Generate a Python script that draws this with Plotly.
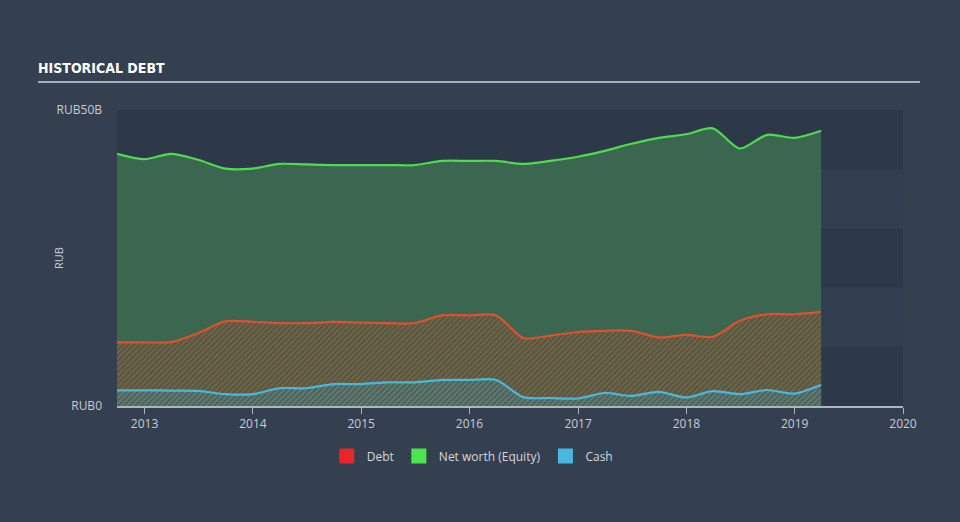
import plotly.graph_objects as go

dates = ["2012-09-30", "2012-12-31", "2013-03-31", "2013-06-30", "2013-09-30", "2013-12-31",
         "2014-03-31", "2014-06-30", "2014-09-30", "2014-12-31", "2015-03-31", "2015-06-30",
         "2015-09-30", "2015-12-31", "2016-03-31", "2016-06-30", "2016-09-30", "2016-12-31",
         "2017-03-31", "2017-06-30", "2017-09-30", "2017-12-31", "2018-03-31", "2018-06-30",
         "2018-09-30", "2018-12-31", "2019-03-31"]

equity = [42.6, 41.7, 42.6, 41.6, 40.1, 40.1, 40.9, 40.8, 40.7, 40.7, 40.7, 40.7, 41.4, 41.4,
          41.4, 40.9, 41.4, 42.1, 43.1, 44.3, 45.3, 45.9, 46.9, 43.5, 45.8, 45.3, 46.5]
debt = [10.75, 10.75, 10.8, 12.3, 14.3, 14.2, 14.0, 14.0, 14.2, 14.1, 14.0, 14.0, 15.3, 15.3,
        15.3, 11.5, 11.9, 12.5, 12.7, 12.7, 11.6, 12.0, 11.7, 14.4, 15.5, 15.5, 15.9]
cash = [2.65, 2.65, 2.6, 2.55, 2.0, 2.0, 3.0, 3.0, 3.7, 3.7, 4.0, 4.0, 4.4, 4.4, 4.4, 1.5,
        1.35, 1.27, 2.2, 1.7, 2.4, 1.45, 2.5, 2.0, 2.7, 2.1, 3.6]

year_ticks = ["2013-01-01", "2014-01-01", "2015-01-01", "2016-01-01", "2017-01-01",
              "2018-01-01", "2019-01-01", "2020-01-01"]
year_labels = ["2013", "2014", "2015", "2016", "2017", "2018", "2019", "2020"]
y_ticks = [0, 50]
y_labels = ["RUB0", "RUB50B"]

PAPER = "#343f4f"
BAND_DARK = "#2d3949"
BAND_LIGHT = "#323e4f"
TXT = "#c8cdd3"
FONT = "Open Sans"

fig = go.Figure()

fig.add_trace(go.Scatter(
    x=dates, y=equity, mode="lines", name="Net worth (Equity)",
    line=dict(color="#4cdc4c", width=2.2, shape="spline", smoothing=0.8),
    fill="tozeroy", fillcolor="rgba(60,103,80,0.97)", showlegend=False, hoverinfo="skip"))

fig.add_trace(go.Scatter(
    x=dates, y=debt, mode="lines", name="Debt",
    line=dict(color="#e0502e", width=2.2, shape="spline", smoothing=0.8),
    fill="tozeroy", fillcolor="rgba(0,0,0,0)",
    fillpattern=dict(shape="/", fgcolor="rgba(220,95,50,0.8)", bgcolor="rgba(95,80,60,0.4)",
                     size=4, solidity=0.45),
    showlegend=False, hoverinfo="skip"))

fig.add_trace(go.Scatter(
    x=dates, y=cash, mode="lines", name="Cash",
    line=dict(color="#4ab8dc", width=2.2, shape="spline", smoothing=0.8),
    fill="tozeroy", fillcolor="rgba(0,0,0,0)",
    fillpattern=dict(shape="/", fgcolor="rgba(90,170,190,0.6)", bgcolor="rgba(70,110,110,0.45)",
                     size=4, solidity=0.45),
    showlegend=False, hoverinfo="skip"))

for nm, col in [("Debt", "#e8262a"), ("Net worth (Equity)", "#4ee44e"), ("Cash", "#48b8e0")]:
    fig.add_trace(go.Scatter(x=[None], y=[None], mode="markers", name=nm,
                             marker=dict(symbol="square", size=15, color=col)))

shapes = []
for lo, hi in [(10, 20), (30, 40)]:
    shapes.append(dict(type="rect", xref="paper", yref="y", x0=0, x1=1, y0=lo, y1=hi,
                       fillcolor=BAND_LIGHT, line=dict(width=0), layer="below"))
shapes.append(dict(type="line", xref="paper", yref="paper", x0=-0.1005, x1=1.0216,
                   y0=1.0946, y1=1.0946, line=dict(color="#a9afb6", width=2)))

annotations = [dict(text="RUB", xref="paper", yref="paper", x=(58 - 117) / 786, y=0.5,
                    xanchor="center", yanchor="middle", textangle=-90, showarrow=False,
                    font=dict(family=FONT, size=11, color=TXT))]

fig.update_layout(
    width=960, height=522,
    paper_bgcolor=PAPER, plot_bgcolor=BAND_DARK,
    margin=dict(l=117, r=57, t=110, b=116),
    font=dict(family=FONT, color=TXT, size=12),
    title=dict(text="<b>HISTORICAL DEBT</b>", x=38 / 960, xanchor="left", xref="container",
               y=1 - 68 / 522, yanchor="middle", yref="container",
               font=dict(family="Liberation Sans Narrow, DejaVu Sans Condensed, Arial Narrow, sans-serif",
                         size=14, color="#ffffff")),
    shapes=shapes,
    annotations=annotations,
    showlegend=True,
    legend=dict(orientation="h", x=0.452, xanchor="center", y=-0.169, yanchor="middle",
                font=dict(family=FONT, size=12, color="#d4d8dc"), bgcolor="rgba(0,0,0,0)",
                itemclick=False),
    xaxis=dict(type="date", range=["2012-09-30", "2020-01-01"], tickvals=year_ticks,
               ticktext=year_labels, showgrid=False, zeroline=False, showline=True,
               linecolor="#aeb5bd", linewidth=1.5, ticks="outside", ticklen=6,
               tickcolor="#aeb5bd", tickfont=dict(size=12, color=TXT)),
    yaxis=dict(range=[0, 50], tickvals=y_ticks, ticktext=y_labels, showgrid=False,
               zeroline=False, showline=False, ticks="", ticklabelstandoff=14,
               tickfont=dict(size=12, color=TXT)),
)

fig.write_html("out.html")
